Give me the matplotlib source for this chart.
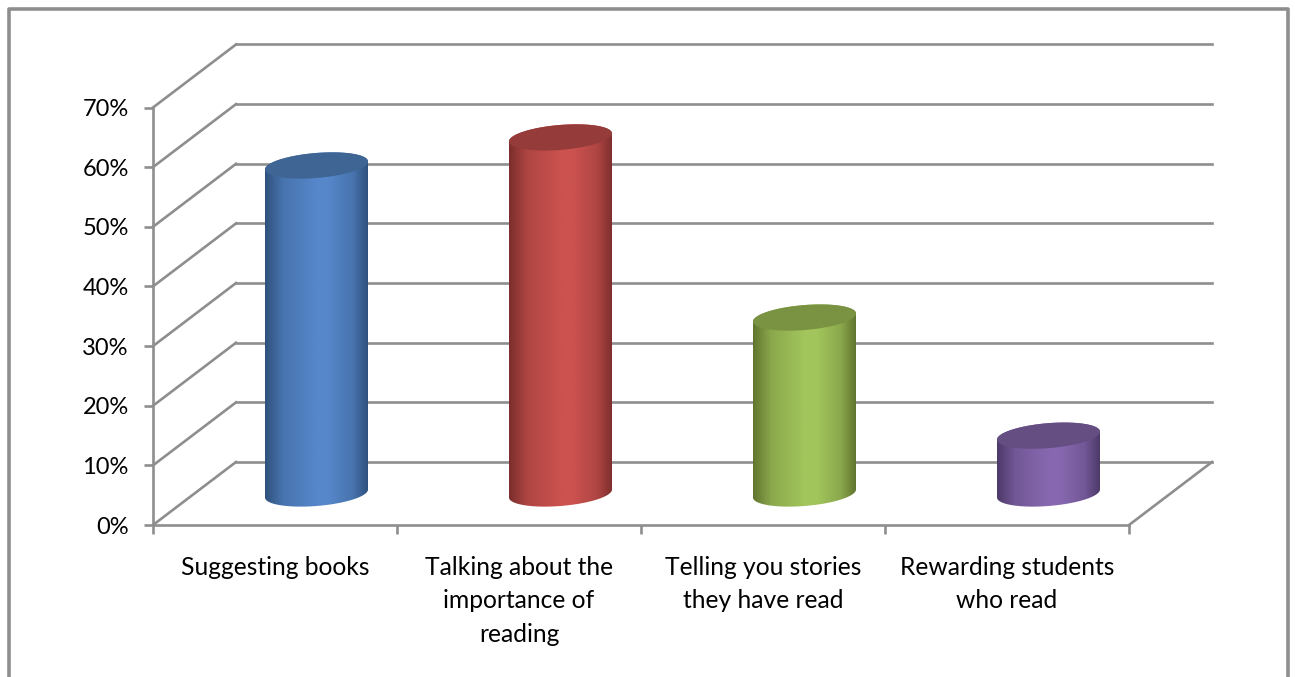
#!/usr/bin/env python3
import numpy as np
import matplotlib
matplotlib.use("Agg")
import matplotlib.pyplot as plt
from matplotlib.colors import LinearSegmentedColormap, to_rgb
from matplotlib.lines import Line2D
from matplotlib.patches import Polygon

categories = [
    "Suggesting books",
    "Talking about the\nimportance of\nreading",
    "Telling you stories\nthey have read",
    "Rewarding students\nwho read",
]
values = [55, 59.7, 29.5, 9.7]
y_ticks = [0, 10, 20, 30, 40, 50, 60, 70]
y_labels = ["0%", "10%", "20%", "30%", "40%", "50%", "60%", "70%"]

# edge, middle and top face colours of each cylinder
edge_colors = ["#2f527d", "#7b2e2c", "#617530", "#4c3a68"]
mid_colors = ["#5687ca", "#cb524f", "#a2c55c", "#8768b0"]
top_colors = ["#3e6593", "#953c3a", "#7a9342", "#644e82"]

GREY = "#8e8e8e"
W, H = 1295, 677

plt.rcParams["font.family"] = ["Lato", "DejaVu Sans"]


def blend(c1, c2, f):
    return tuple((1 - f) * a + f * b for a, b in zip(to_rgb(c1), to_rgb(c2)))


fig = plt.figure(figsize=(W / 100, H / 100), dpi=100, facecolor="white")

# plot area in pixels: x 153..1129, y 525..107.5
ax = fig.add_axes([153 / W, 1 - 525 / H, 976 / W, 417.5 / H])
ax.patch.set_visible(False)

# depth of the fake 3D box, in data units
dx = 83 / 244
dy = 63 / 5.964

# back wall lines and the side wall lines
for v in y_ticks:
    ax.plot([dx, 4 + dx], [v + dy, v + dy], color=GREY, lw=1.9, clip_on=False, zorder=1)
    ax.plot([0, dx], [v, v + dy], color=GREY, lw=1.9, clip_on=False, zorder=1)
ax.plot([4, 4 + dx], [0, dy], color=GREY, lw=1.9, clip_on=False, zorder=1)

# cylinders
half_w = 51.5 / 244
tilt = 4 / 5.964
b = 12.5 / 5.964
for i, val in enumerate(values):
    cx = i + 0.5 + dx / 2
    y0 = dy / 2
    y1 = val + dy / 2

    t_low = np.linspace(np.pi, 2 * np.pi, 60)
    t_up = np.linspace(0, np.pi, 60)
    t_all = np.linspace(0, 2 * np.pi, 120)
    low = np.c_[cx + half_w * np.cos(t_low), y0 + tilt * np.cos(t_low) + b * np.sin(t_low)]
    up = np.c_[cx + half_w * np.cos(t_up), y1 + tilt * np.cos(t_up) + b * np.sin(t_up)]
    body = Polygon(np.r_[low, up], closed=True, fc="none", ec="none", transform=ax.transData)
    ax.add_patch(body)

    cmap = LinearSegmentedColormap.from_list(
        "cyl",
        [
            (0, edge_colors[i]),
            (0.18, blend(edge_colors[i], mid_colors[i], 0.65)),
            (0.5, mid_colors[i]),
            (0.62, mid_colors[i]),
            (0.85, blend(edge_colors[i], mid_colors[i], 0.65)),
            (1, edge_colors[i]),
        ],
    )
    grad = np.linspace(0, 1, 256).reshape(1, -1)
    im = ax.imshow(
        grad, cmap=cmap, aspect="auto", zorder=3, clip_on=True,
        extent=(cx - half_w, cx + half_w, y0 - b - tilt, y1 + b + tilt),
    )
    im.set_clip_path(body)

    top = np.c_[cx + half_w * np.cos(t_all), y1 + tilt * np.cos(t_all) + b * np.sin(t_all)]
    ax.add_patch(Polygon(top, closed=True, fc=top_colors[i], ec="none", zorder=4))

ax.set_xlim(0, 4)
ax.set_ylim(0, 70)

# axes and ticks
for side in ["top", "right"]:
    ax.spines[side].set_visible(False)
for side in ["left", "bottom"]:
    ax.spines[side].set_color(GREY)
    ax.spines[side].set_linewidth(1.9)

ax.set_yticks(y_ticks)
ax.set_yticklabels(y_labels, fontsize=17, color="black")
ax.tick_params(axis="y", length=6.5, width=1.9, color=GREY, pad=11)

ax.set_xticks(np.arange(5))
ax.set_xticklabels([])
ax.tick_params(axis="x", which="major", length=6.5, width=1.9, color=GREY)
ax.set_xticks(np.arange(4) + 0.5, minor=True)
ax.set_xticklabels(categories, minor=True, fontsize=17.7, color="black", linespacing=1.57)
ax.tick_params(axis="x", which="minor", length=0, pad=22)

# chart border, open at the bottom
border = Line2D(
    [8.5 / W, 8.5 / W, 1288 / W, 1288 / W],
    [0, 1 - 8.5 / H, 1 - 8.5 / H, 0],
    transform=fig.transFigure, color=GREY, lw=2.6,
)
fig.add_artist(border)

fig.savefig("out.png", dpi=100, facecolor="white")
